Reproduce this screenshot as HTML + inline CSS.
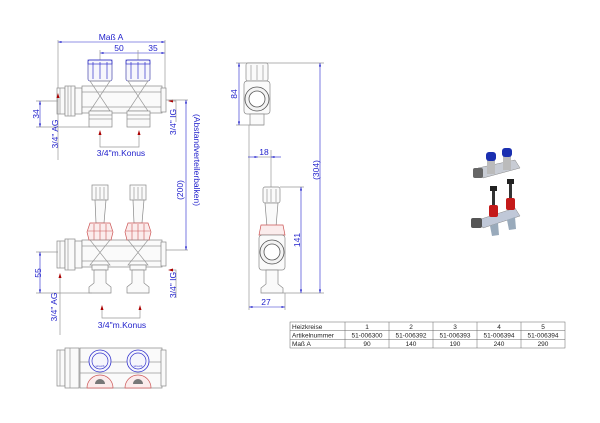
<!DOCTYPE html>
<html><head><meta charset="utf-8"><style>
html,body{margin:0;padding:0;background:#fff;}
svg{display:block;font-family:"Liberation Sans",sans-serif;}
.g{fill:none;stroke:#999;stroke-width:0.7}
.gf{fill:#fafafa;stroke:#888;stroke-width:0.7}
.b{fill:none;stroke:#33c;stroke-width:0.7}
.bf{fill:#f6f6fc;stroke:#44a;stroke-width:0.7}
.r{fill:#fbecec;stroke:#c55;stroke-width:0.7}
.d{stroke:#22c;stroke-width:0.6;fill:none}
.t{fill:#22c;font-size:8.5px}
.ar{fill:#a00}
</style></head><body>
<svg width="600" height="423" viewBox="0 0 600 423" xmlns="http://www.w3.org/2000/svg">
<defs>
<marker id="a" viewBox="0 0 10 10" refX="10" refY="5" markerWidth="6" markerHeight="6" orient="auto-start-reverse"><path d="M0,2 L10,5 L0,8z" fill="#22c"/></marker>
</defs>

<!-- ===== TOP VIEW ===== -->
<line class="d" x1="58" y1="42" x2="165" y2="42" marker-start="url(#a)" marker-end="url(#a)"/>
<text class="t" x="111" y="40" text-anchor="middle">Maß A</text>
<line class="d" x1="100" y1="53" x2="165" y2="53" marker-start="url(#a)" marker-end="url(#a)"/>
<text class="t" x="119" y="51" text-anchor="middle">50</text>
<text class="t" x="153" y="51" text-anchor="middle">35</text>
<line class="g" x1="58" y1="40" x2="58" y2="88"/><line class="g" x1="165" y1="40" x2="165" y2="88"/>
<line class="g" x1="100" y1="50" x2="100" y2="60"/><line class="g" x1="138" y1="50" x2="138" y2="60"/>
<!-- inlet -->
<rect class="gf" x="57" y="88" width="8" height="26"/>
<rect class="gf" x="65" y="86" width="10" height="30"/>
<rect class="gf" x="75" y="88" width="7" height="26"/>
<line class="g" x1="60" y1="88" x2="60" y2="114"/><line class="g" x1="68" y1="86" x2="68" y2="116"/><line class="g" x1="71" y1="86" x2="71" y2="116"/>
<!-- body -->
<rect class="gf" x="82" y="86" width="80" height="27"/>
<line class="g" x1="82" y1="92" x2="162" y2="92"/><line class="g" x1="82" y1="107" x2="162" y2="107"/>
<rect class="gf" x="161" y="88" width="5" height="24"/>
<!-- valves top -->
<g>
<rect class="bf" x="88" y="60" width="24" height="21" rx="2"/>
<line class="b" x1="93" y1="62" x2="93" y2="79"/><line class="b" x1="100" y1="62" x2="100" y2="79"/><line class="b" x1="107" y1="62" x2="107" y2="79"/>
<rect class="b" x="88" y="60" width="24" height="4"/>
<path class="g" d="M90,81 L110,81 L90,111 L110,111 Z"/>
<rect class="gf" x="89" y="111" width="23" height="16"/>
<line class="g" x1="89" y1="115" x2="112" y2="115"/><line class="g" x1="89" y1="119" x2="112" y2="119"/>
</g>
<g transform="translate(38,0)">
<rect class="bf" x="88" y="60" width="24" height="21" rx="2"/>
<line class="b" x1="93" y1="62" x2="93" y2="79"/><line class="b" x1="100" y1="62" x2="100" y2="79"/><line class="b" x1="107" y1="62" x2="107" y2="79"/>
<rect class="b" x="88" y="60" width="24" height="4"/>
<path class="g" d="M90,81 L110,81 L90,111 L110,111 Z"/>
<rect class="gf" x="89" y="111" width="23" height="16"/>
<line class="g" x1="89" y1="115" x2="112" y2="115"/><line class="g" x1="89" y1="119" x2="112" y2="119"/>
</g>
<!-- top view dims -->
<line class="g" x1="36" y1="101" x2="58" y2="101"/><line class="g" x1="36" y1="127" x2="90" y2="127"/>
<line class="d" x1="40" y1="101" x2="40" y2="127" marker-start="url(#a)" marker-end="url(#a)"/>
<text class="t" transform="translate(39,114) rotate(-90)" text-anchor="middle">34</text>
<path class="ar" d="M58,93 l-1.5,5 h3z"/><line class="g" x1="58" y1="98" x2="58" y2="160"/>
<text class="t" transform="translate(58,134) rotate(-90)" text-anchor="middle">3/4" AG</text>
<path class="ar" d="M100,130 l-1.5,5 h3z"/><path class="ar" d="M139,130 l-1.5,5 h3z"/>
<polyline class="g" points="100,135 100,147 139,147 139,135"/>
<text class="t" x="121" y="156" text-anchor="middle">3/4"m.Konus</text>
<path class="ar" d="M168,101 l5,-1.5 v3z"/><polyline class="g" points="173,101 176,101 176,122"/>
<text class="t" transform="translate(176,122) rotate(-90)" text-anchor="middle">3/4" IG</text>
<line class="g" x1="166" y1="100" x2="188" y2="100"/><line class="g" x1="166" y1="250" x2="188" y2="250"/>
<line class="d" x1="186" y1="100" x2="186" y2="250" marker-start="url(#a)" marker-end="url(#a)"/>
<text class="t" transform="translate(183,190) rotate(-90)" text-anchor="middle">(200)</text>
<text class="t" font-size="7.5" transform="translate(194,160) rotate(90)" text-anchor="middle">(Abstandverteilerbalken)</text>

<!-- ===== MIDDLE VIEW ===== -->
<rect class="gf" x="57" y="241" width="8" height="27"/>
<rect class="gf" x="65" y="239" width="10" height="31"/>
<rect class="gf" x="75" y="241" width="7" height="27"/>
<line class="g" x1="60" y1="241" x2="60" y2="268"/><line class="g" x1="68" y1="239" x2="68" y2="270"/>
<rect class="gf" x="82" y="240" width="80" height="27"/>
<line class="g" x1="82" y1="246" x2="162" y2="246"/><line class="g" x1="82" y1="261" x2="162" y2="261"/>
<rect class="gf" x="161" y="242" width="5" height="24"/>
<g id="mv">
<rect class="gf" x="92" y="185" width="16" height="15"/>
<line class="g" x1="96" y1="187" x2="96" y2="199"/><line class="g" x1="100" y1="187" x2="100" y2="199"/><line class="g" x1="104" y1="187" x2="104" y2="199"/>
<path class="gf" d="M95,200 L106,200 L104,223 L96,223 Z"/>
<path class="r" d="M90,223 L110,223 L113,232 L111,240 L89,240 L87,232 Z"/>
<line stroke="#c55" stroke-width="0.6" x1="94" y1="224" x2="94" y2="240"/><line stroke="#c55" stroke-width="0.6" x1="100" y1="224" x2="100" y2="240"/><line stroke="#c55" stroke-width="0.6" x1="106" y1="224" x2="106" y2="240"/><line stroke="#c55" stroke-width="0.6" x1="88" y1="231" x2="112" y2="231"/>
<path class="g" d="M90,240 L110,240 L90,265 L110,265 Z"/>
<rect class="gf" x="92" y="265" width="16" height="5"/>
<path class="gf" d="M94,270 L106,270 L106,283 L111,287 L111,293 L89,293 L89,287 L94,283 Z"/>
</g>
<use href="#mv" transform="translate(38,0)"/>
<line class="g" x1="36" y1="252" x2="58" y2="252"/><line class="g" x1="36" y1="293" x2="92" y2="293"/>
<line class="d" x1="40" y1="252" x2="40" y2="293" marker-start="url(#a)" marker-end="url(#a)"/>
<text class="t" transform="translate(41,273) rotate(-90)" text-anchor="middle">55</text>
<path class="ar" d="M60,273 l-1.5,5 h3z"/><line class="g" x1="60" y1="278" x2="60" y2="335"/>
<text class="t" transform="translate(57,307) rotate(-90)" text-anchor="middle">3/4" AG</text>
<path class="ar" d="M102,305 l-1.5,5 h3z"/><path class="ar" d="M140,305 l-1.5,5 h3z"/>
<polyline class="g" points="102,310 102,318 140,318 140,310"/>
<text class="t" x="122" y="328" text-anchor="middle">3/4"m.Konus</text>
<path class="ar" d="M168,270 l5,-1.5 v3z"/><polyline class="g" points="173,270 176,270 176,298"/>
<text class="t" transform="translate(176,285) rotate(-90)" text-anchor="middle">3/4" IG</text>

<!-- ===== BOTTOM VIEW ===== -->
<rect class="gf" x="57" y="350" width="8" height="36"/>
<rect class="gf" x="65" y="348" width="14" height="40"/>
<line class="g" x1="60" y1="350" x2="60" y2="386"/><line class="g" x1="70" y1="348" x2="70" y2="388"/>
<rect class="gf" x="80" y="348" width="82" height="40"/>
<line class="g" x1="80" y1="362" x2="162" y2="362"/><line class="g" x1="80" y1="373" x2="162" y2="373"/>
<rect class="gf" x="161" y="350" width="5" height="36"/>
<g id="bv">
<path class="r" d="M87,388 A13,13 0 0 1 113,388 Z"/>
<path d="M95,384 A5,5 0 0 1 105,384 Z" fill="#777"/>
<circle cx="100" cy="361" r="11" fill="#f6f6fc" stroke="#33c" stroke-width="0.8"/>
<circle cx="100" cy="361" r="8" class="b"/>
<text x="100" y="367" font-size="3" fill="#33c" text-anchor="middle">sinusS</text>
</g>
<use href="#bv" transform="translate(38,0)"/>

<!-- ===== SIDE VIEWS ===== -->
<line class="g" x1="236" y1="63" x2="324" y2="63"/>
<rect class="gf" x="246" y="63" width="22" height="18" rx="2"/>
<line class="g" x1="251" y1="65" x2="251" y2="80"/><line class="g" x1="257" y1="65" x2="257" y2="80"/><line class="g" x1="263" y1="65" x2="263" y2="80"/>
<rect class="gf" x="244" y="81" width="26" height="33" rx="3"/>
<circle cx="257" cy="99" r="12" fill="#f3f3f3" stroke="#555" stroke-width="0.8"/>
<circle cx="257" cy="99" r="8" fill="#fff" stroke="#555" stroke-width="0.8"/>
<rect class="gf" x="250" y="114" width="14" height="11"/>
<line class="g" x1="236" y1="125" x2="264" y2="125"/>
<line class="d" x1="239" y1="63" x2="239" y2="125" marker-start="url(#a)" marker-end="url(#a)"/>
<text class="t" transform="translate(237,94) rotate(-90)" text-anchor="middle">84</text>
<line class="g" x1="249" y1="125" x2="249" y2="310"/><line class="g" x1="271" y1="150" x2="271" y2="188"/>
<line class="d" x1="248" y1="157" x2="258" y2="157" marker-end="url(#a)"/>
<line class="d" x1="281" y1="157" x2="271" y2="157" marker-end="url(#a)"/>
<line class="g" x1="258" y1="157" x2="271" y2="157"/>
<text class="t" x="264" y="155" text-anchor="middle">18</text>
<rect class="gf" x="263" y="187" width="17" height="16" rx="2"/>
<line class="g" x1="267" y1="189" x2="267" y2="202"/><line class="g" x1="271" y1="189" x2="271" y2="202"/><line class="g" x1="276" y1="189" x2="276" y2="202"/>
<path class="gf" d="M265,203 L278,203 L276,227 L267,227 Z"/>
<path class="r" d="M261,225 L283,225 L285,235 L259,235 Z"/>
<rect class="gf" x="259" y="235" width="26" height="35" rx="3"/>
<circle cx="272" cy="252" r="12" fill="#f3f3f3" stroke="#555" stroke-width="0.8"/>
<circle cx="272" cy="252" r="8" fill="#fff" stroke="#555" stroke-width="0.8"/>
<path class="gf" d="M266,270 L278,270 L278,284 L283,288 L283,293 L261,293 L261,288 L266,284 Z"/>
<line class="g" x1="280" y1="187" x2="304" y2="187"/><line class="g" x1="283" y1="293" x2="324" y2="293"/>
<line class="d" x1="301" y1="187" x2="301" y2="293" marker-start="url(#a)" marker-end="url(#a)"/>
<text class="t" transform="translate(300,240) rotate(-90)" text-anchor="middle">141</text>
<line class="d" x1="320" y1="63" x2="320" y2="293" marker-start="url(#a)" marker-end="url(#a)"/>
<text class="t" transform="translate(319,170) rotate(-90)" text-anchor="middle">(304)</text>
<line class="g" x1="285" y1="293" x2="285" y2="310"/>
<line class="d" x1="249" y1="307" x2="285" y2="307" marker-start="url(#a)" marker-end="url(#a)"/>
<text class="t" x="266" y="305" text-anchor="middle">27</text>

<!-- ===== PHOTO ===== -->
<g>
<path d="M478,168 L515,160 L520,168 L483,178 Z" fill="#c8ccd4" stroke="#888" stroke-width="0.5"/>
<rect x="473" y="168" width="10" height="10" fill="#666" rx="2"/>
<rect x="487" y="160" width="8" height="14" fill="#bbb"/>
<rect x="503" y="156" width="8" height="14" fill="#bbb"/>
<rect x="486" y="152" width="10" height="9" fill="#1a2fb0" rx="3"/>
<rect x="502" y="148" width="10" height="9" fill="#1a2fb0" rx="3"/>
<path d="M478,220 L515,208 L520,216 L483,228 Z" fill="#c0c8d8" stroke="#888" stroke-width="0.5"/>
<rect x="471" y="218" width="11" height="10" fill="#555" rx="2"/>
<rect x="489" y="205" width="9" height="12" fill="#c41a1a" rx="2"/>
<rect x="506" y="198" width="9" height="12" fill="#c41a1a" rx="2"/>
<rect x="492" y="190" width="3" height="15" fill="#333"/><rect x="509" y="183" width="3" height="15" fill="#333"/>
<rect x="490" y="186" width="7" height="5" fill="#222"/><rect x="507" y="179" width="7" height="5" fill="#222"/>
<path d="M490,226 L498,223 L499,235 L492,236 Z" fill="#9ab" />
<path d="M507,220 L515,217 L516,229 L509,230 Z" fill="#9ab" />
</g>

<!-- ===== TABLE ===== -->
<g font-size="6.5" fill="#222">
<rect x="290" y="322" width="275" height="26" fill="none" stroke="#666" stroke-width="0.5"/>
<line x1="290" y1="330.7" x2="565" y2="330.7" stroke="#666" stroke-width="0.5"/>
<line x1="290" y1="339.3" x2="565" y2="339.3" stroke="#666" stroke-width="0.5"/>
<line x1="345" y1="322" x2="345" y2="348" stroke="#666" stroke-width="0.5"/>
<line x1="389" y1="322" x2="389" y2="348" stroke="#666" stroke-width="0.5"/>
<line x1="433" y1="322" x2="433" y2="348" stroke="#666" stroke-width="0.5"/>
<line x1="477" y1="322" x2="477" y2="348" stroke="#666" stroke-width="0.5"/>
<line x1="521" y1="322" x2="521" y2="348" stroke="#666" stroke-width="0.5"/>
<text x="292" y="329">Heizkreise</text><text x="292" y="337.5">Artikelnummer</text><text x="292" y="346">Maß A</text>
<g text-anchor="middle">
<text x="367" y="329">1</text><text x="411" y="329">2</text><text x="455" y="329">3</text><text x="499" y="329">4</text><text x="543" y="329">5</text>
<text x="367" y="337.5">51-006300</text><text x="411" y="337.5">51-006392</text><text x="455" y="337.5">51-006393</text><text x="499" y="337.5">51-006394</text><text x="543" y="337.5">51-006394</text>
<text x="367" y="346">90</text><text x="411" y="346">140</text><text x="455" y="346">190</text><text x="499" y="346">240</text><text x="543" y="346">290</text>
</g>
</g>
</svg>
</body></html>
